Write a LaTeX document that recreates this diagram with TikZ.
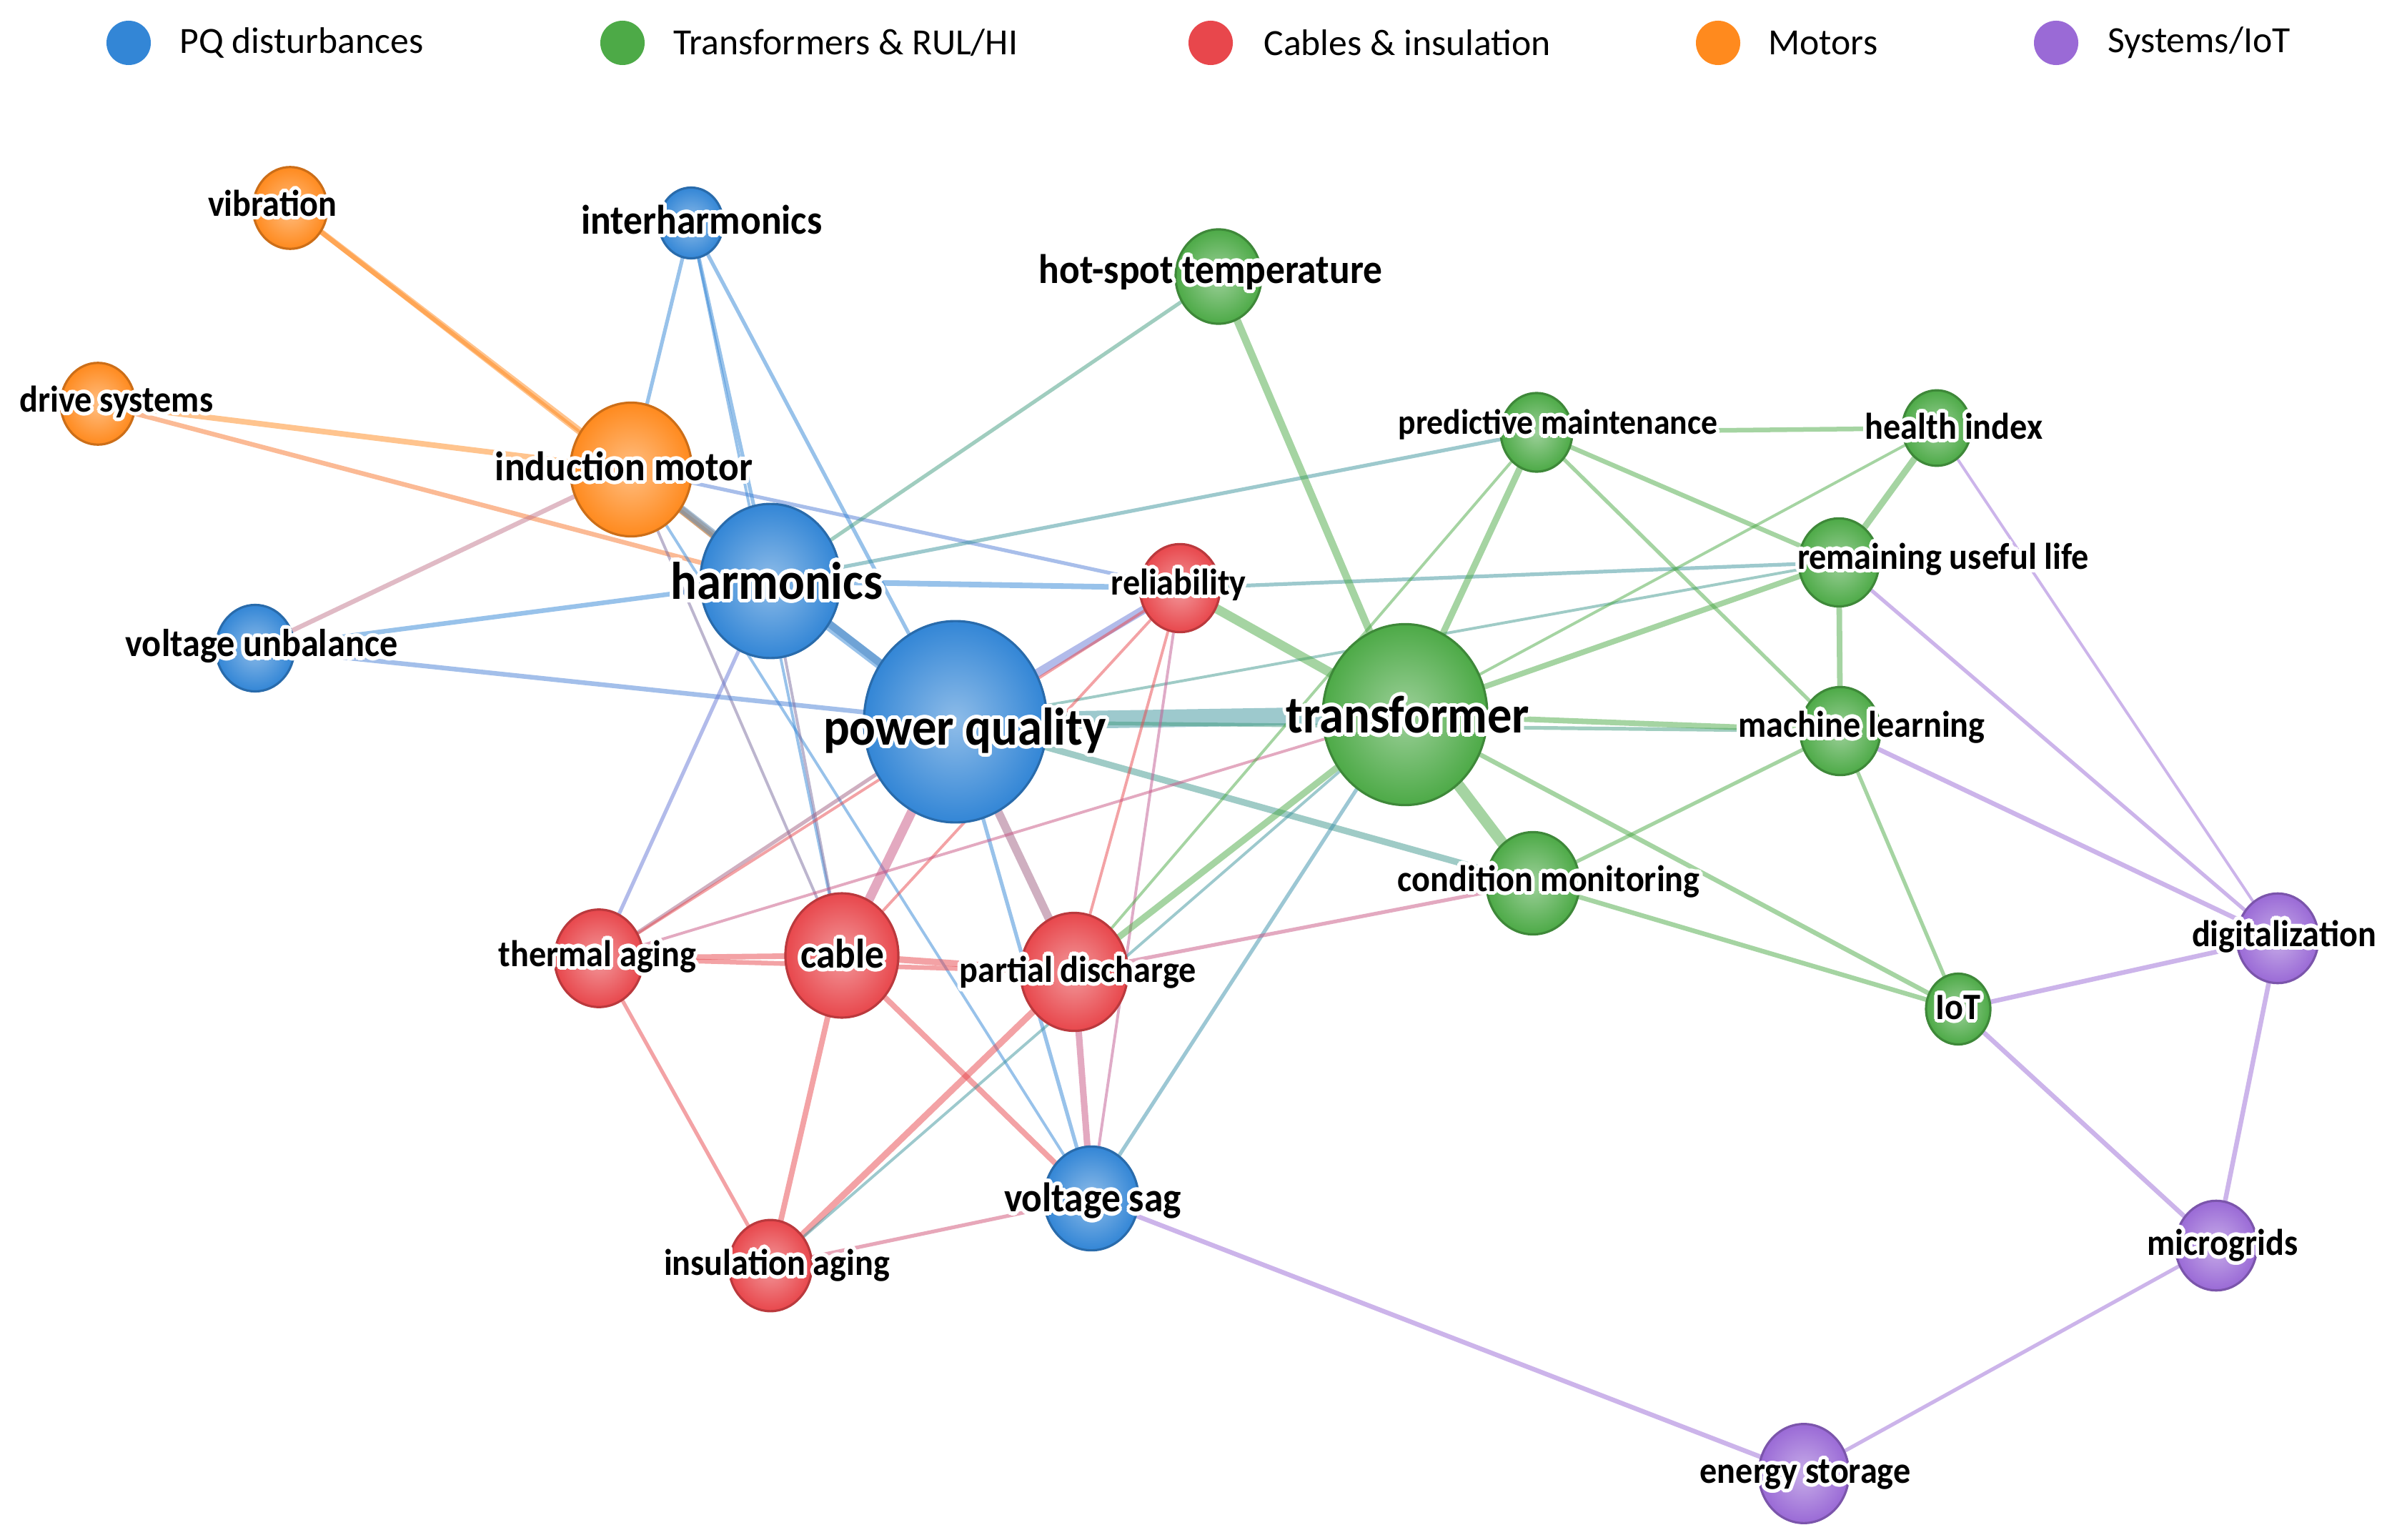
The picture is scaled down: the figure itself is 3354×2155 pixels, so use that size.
\documentclass[tikz,border=0pt]{standalone}
\usepackage{fontspec}
\setmainfont{Carlito}
\usepackage{graphicx}
\usepackage{contour}
\contourlength{1.4pt}
\contournumber{20}
\usetikzlibrary{shapes.geometric,backgrounds}

\definecolor{cb}{HTML}{3386D6}
\definecolor{cg}{HTML}{4DAA47}
\definecolor{cr}{HTML}{E8474C}
\definecolor{co}{HTML}{FF8A1E}
\definecolor{cp}{HTML}{9A6AD6}

\tikzset{
  kw/.style={ellipse, inner sep=0pt, draw=#1!80!black, line width=.9pt,
    inner color=#1!55!white, outer color=#1},
  sz/.style={minimum width=#1*0.02cm, minimum height=#1*0.022cm},
  lgd/.style={circle, inner sep=0pt, minimum size=0.62cm, fill=#1},
  legtxt/.style={anchor=west, font=\fontsize{14.7}{18}\selectfont},
  txtL/.style={font=\bfseries\fontsize{19.5}{22}\selectfont},
  txtM/.style={font=\bfseries\fontsize{15.2}{18}\selectfont},
  txtS/.style={font=\bfseries\fontsize{13.7}{16}\selectfont},
  ed/.style={line cap=round, draw opacity=.5},
}
\newcommand{\halo}[1]{\scalebox{1}[1.08]{\contour{white}{#1}}}

\begin{document}
\begin{tikzpicture}[x=0.01cm, y=-0.01cm]
  \useasboundingbox (0,0) rectangle (3354,2155);

  % Legend
  \node[lgd=cb] (lg-pq) at (180,60) {};
  \node[legtxt] (lg-pq-t) at (239,60) {PQ disturbances};
  \node[lgd=cg] (lg-tr) at (871,60) {};
  \node[legtxt] (lg-tr-t) at (930,60) {Transformers \& RUL/HI};
  \node[lgd=cr] (lg-ca) at (1694,60) {};
  \node[legtxt] (lg-ca-t) at (1756,60) {Cables \& insulation};
  \node[lgd=co] (lg-mo) at (2404,60) {};
  \node[legtxt] (lg-mo-t) at (2462,60) {Motors};
  \node[lgd=cp] (lg-sy) at (2877,60) {};
  \node[legtxt] (lg-sy-t) at (2937,60) {Systems/IoT};

  % Motors
  \node[kw=co, sz=52] (vib) at (406,291) {};
  \node[kw=co, sz=52] (drive) at (137,565) {};
  \node[kw=co, sz=85] (im) at (883,657) {};

  % PQ disturbances
  \node[kw=cb, sz=45] (inter) at (967,312) {};
  \node[kw=cb, sz=98] (harm) at (1078,813) {};
  \node[kw=cb, sz=55] (vu) at (357,907) {};
  \node[kw=cb, sz=128] (pq) at (1337,1010) {};
  \node[kw=cb, sz=66] (vs) at (1527,1677) {};

  % Cables & insulation
  \node[kw=cr, sz=56] (rel) at (1651,823) {};
  \node[kw=cr, sz=62] (ta) at (838,1341) {};
  \node[kw=cr, sz=79] (cable) at (1178,1337) {};
  \node[kw=cr, sz=75] (pd) at (1503,1360) {};
  \node[kw=cr, sz=58] (ia) at (1078,1771) {};

  % Transformers & RUL/HI
  \node[kw=cg, sz=60] (hot) at (1705,387) {};
  \node[kw=cg, sz=115] (tr) at (1966,1000) {};
  \node[kw=cg, sz=50] (pm) at (2150,605) {};
  \node[kw=cg, sz=48] (hi) at (2710,599) {};
  \node[kw=cg, sz=56] (rul) at (2573,787) {};
  \node[kw=cg, sz=56] (ml) at (2575,1023) {};
  \node[kw=cg, sz=65] (cm) at (2145,1236) {};
  \node[kw=cg, sz=45] (iot) at (2740,1412) {};

  % Systems/IoT
  \node[kw=cp, sz=57] (dig) at (3187,1313) {};
  \node[kw=cp, sz=57] (micro) at (3101,1743) {};
  \node[kw=cp, sz=63] (es) at (2524,2062) {};

  % Labels
  \node[txtS] (vib-t) at (381,287) {\halo{vibration}};
  \node[txtS] (drive-t) at (163,565) {\halo{drive systems}};
  \node[txtM] (im-t) at (873,655) {\halo{induction motor}};
  \node[txtM] (inter-t) at (982,310) {\halo{interharmonics}};
  \node[txtL] (harm-t) at (1087,815) {\halo{harmonics}};
  \node[txtS, font=\bfseries\fontsize{14.3}{17}\selectfont] (vu-t) at (366,907) {\halo{voltage unbalance}};
  \node[txtL] (pq-t) at (1350,1025) {\halo{power quality}};
  \node[txtM] (vs-t) at (1529,1683) {\halo{voltage sag}};
  \node[txtS] (rel-t) at (1649,821) {\halo{reliability}};
  \node[txtS] (ta-t) at (836,1341) {\halo{thermal aging}};
  \node[txtM] (cable-t) at (1179,1337) {\halo{cable}};
  \node[txtS] (pd-t) at (1508,1363) {\halo{partial discharge}};
  \node[txtS] (ia-t) at (1087,1773) {\halo{insulation aging}};
  \node[txtM] (hot-t) at (1694,383) {\halo{hot-spot temperature}};
  \node[txtL] (tr-t) at (1970,1003) {\halo{transformer}};
  \node[txtS, font=\bfseries\fontsize{13}{16}\selectfont] (pm-t) at (2180,597) {\halo{predictive maintenance}};
  \node[txtS] (hi-t) at (2734,599) {\halo{health index}};
  \node[txtS] (rul-t) at (2719,785) {\halo{remaining useful life}};
  \node[txtS] (ml-t) at (2605,1020) {\halo{machine learning}};
  \node[txtS] (cm-t) at (2167,1236) {\halo{condition monitoring}};
  \node[txtS] (iot-t) at (2740,1412) {\halo{IoT}};
  \node[txtS] (dig-t) at (3196,1313) {\halo{digitalization}};
  \node[txtS] (micro-t) at (3110,1745) {\halo{microgrids}};
  \node[txtS] (es-t) at (2526,2066) {\halo{energy storage}};

  % Connectors
  \begin{pgfonlayer}{background}
    \fill[white] (0,0) rectangle (3354,2155);
    \foreach \a/\b/\c/\w in {
      vib/im/co/6, vib/harm/co/5, drive/im/co/6, drive/harm/co!70!cr/5,
      im/harm/co!60!cb/8, im/pq/cb!80!co/8, im/vu/co!40!cp/5, im/inter/cb/4,
      im/rel/cb!70!cp/4, im/vs/cb/3, im/cable/cb!60!cr/3,
      inter/harm/cb/4, inter/pq/cb/4, inter/cable/cb/3,
      vu/harm/cb/5, vu/pq/cb!80!cp/5,
      harm/pq/cb/11, harm/rel/cb/6, harm/pm/cb!60!cg/4, harm/ta/cb!50!cp/4,
      harm/cable/cb!60!cr/3, harm/hot/cg!60!cb/4,
      pq/tr/cb!60!cg/19, pq/rel/cb!50!cp/9, pq/cable/cr!60!cp/10,
      pq/pd/cb!40!cr/9, pq/vs/cb/4, pq/cm/cb!50!cg/7, pq/ml/cg!60!cb/4,
      pq/rul/cb!50!cg/3, pq/ta/cb!40!cr/4,
      vs/es/cp/5, vs/pd/cr!60!cp/7, vs/cable/cr/6, vs/ia/cr!70!cp/4,
      vs/tr/cb!70!cg/4, vs/rel/cp!50!cr/3,
      rel/tr/cg/10, rel/rul/cb!60!cg/4, rel/pd/cr/3, rel/cable/cr/3,
      ta/cable/cr/6, ta/pd/cr/5, ta/ia/cr/4, ta/tr/cr!60!cp/3, ta/rel/cr/3,
      cable/pd/cr/7, cable/ia/cr/6, pd/ia/cr/7, pd/tr/cg/7, pd/cm/cr!60!cp/4,
      ia/tr/cb!60!cg/3,
      hot/tr/cg/8, tr/pm/cg/7, tr/hi/cg/3, tr/rul/cg/6, tr/ml/cg/6,
      tr/cm/cg/12, tr/iot/cg/5,
      pm/hi/cg/5, pm/rul/cg/5, pm/ml/cg/4, pm/pd/cg/3,
      hi/rul/cg/7, hi/dig/cp/3, rul/ml/cg/6, rul/dig/cp/4,
      ml/cm/cg/4, ml/iot/cg/4, ml/dig/cp/5, cm/iot/cg/5,
      iot/dig/cp/5, iot/micro/cp/5, dig/micro/cp/5, micro/es/cp/4}
      \draw[ed, draw=\c, line width=\w*0.37pt] (\a) -- (\b);
  \end{pgfonlayer}
\end{tikzpicture}
\end{document}
